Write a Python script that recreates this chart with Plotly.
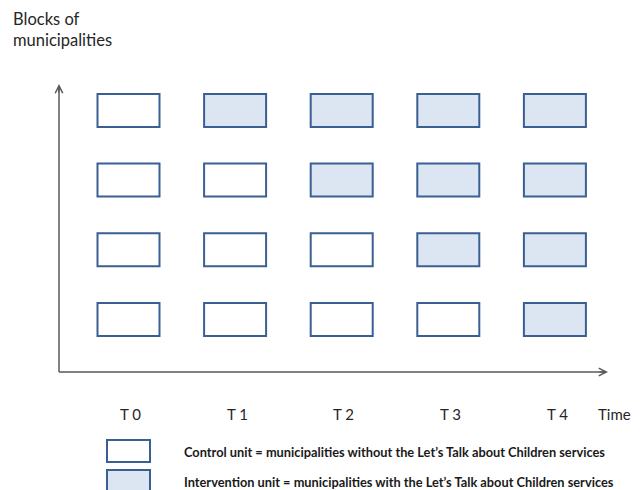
import plotly.graph_objects as go

# ---- data ----
time_labels = ["T 0", "T 1", "T 2", "T 3", "T 4"]
blocks = [1, 2, 3, 4]                 # block 1 at bottom, block 4 at top
intervention_start = [4, 3, 2, 1]     # time index at which each block starts the intervention
legend_labels = [
    "Control unit = municipalities without the Let\u2019s Talk about Children services",
    "Intervention unit = municipalities with the Let\u2019s Talk about Children services",
]

# ---- styling / layout constants ----
OFF = 8                       # page body margin in the browser
W, H = 643 - OFF, 490 - OFF
BORDER = "#3A5F93"
FILL_INT = "#DCE6F2"
FILL_CTRL = "#FFFFFF"
AXIS = "#595959"
TEXT = "#262626"
FONT = "Lato"

# pixel geometry of the grid (window pixels)
col0_px, col_step_px = 128.5 - OFF, 106.6
row1_px, row_step_px = 319.5 - OFF, 69.7
box_w_px, box_h_px = 62, 33

x_range = [-col0_px / col_step_px, (W - col0_px) / col_step_px]
y_range = [1 - (H - row1_px) / row_step_px, 1 + row1_px / row_step_px]
bw = box_w_px / col_step_px
bh = box_h_px / row_step_px


def px_x(p):
    return (p - OFF) / W


def px_y(p):
    return 1 - (p - OFF) / H


fig = go.Figure()
shapes = []
for b, start in zip(blocks, intervention_start):
    for t in range(len(time_labels)):
        fill = FILL_INT if t >= start else FILL_CTRL
        shapes.append(dict(type="rect", xref="x", yref="y",
                           x0=t - bw / 2, x1=t + bw / 2, y0=b - bh / 2, y1=b + bh / 2,
                           line=dict(color=BORDER, width=2), fillcolor=fill, layer="above"))

# axes lines
shapes.append(dict(type="line", xref="paper", yref="paper",
                   x0=px_x(59), x1=px_x(59), y0=px_y(372), y1=px_y(88),
                   line=dict(color=AXIS, width=1.5)))
shapes.append(dict(type="line", xref="paper", yref="paper",
                   x0=px_x(59), x1=px_x(604), y0=px_y(372), y1=px_y(372),
                   line=dict(color=AXIS, width=1.5)))

# legend boxes
legend_fills = [FILL_CTRL, FILL_INT]
legend_box_top = [440, 470]
for f, top in zip(legend_fills, legend_box_top):
    shapes.append(dict(type="rect", xref="paper", yref="paper",
                       x0=px_x(107), x1=px_x(150), y0=px_y(top + 22), y1=px_y(top),
                       line=dict(color=BORDER, width=2), fillcolor=f))

annotations = []
# arrowheads
annotations.append(dict(xref="paper", yref="paper", x=px_x(59), y=px_y(84),
                        ax=0, ay=10, showarrow=True, arrowhead=5, arrowsize=1,
                        arrowwidth=1.5, arrowcolor=AXIS, text=""))
annotations.append(dict(xref="paper", yref="paper", x=px_x(608), y=px_y(372),
                        ax=-10, ay=0, showarrow=True, arrowhead=5, arrowsize=1,
                        arrowwidth=1.5, arrowcolor=AXIS, text=""))

# time labels
for t, lab in enumerate(time_labels):
    annotations.append(dict(xref="x", yref="paper", x=t + 0.02, y=px_y(414),
                            xanchor="center", yanchor="middle",
                            text=lab, showarrow=False,
                            font=dict(family=FONT, size=15, color=TEXT)))
annotations.append(dict(xref="paper", yref="paper", x=px_x(633), y=px_y(414),
                        xanchor="right", yanchor="middle",
                        text="Time", showarrow=False,
                        font=dict(family=FONT, size=15, color=TEXT)))

# y-axis title
annotations.append(dict(xref="paper", yref="paper", x=px_x(11), y=px_y(7),
                        xanchor="left", yanchor="top", align="left",
                        text="Blocks of<br>municipalities", showarrow=False,
                        font=dict(family=FONT, size=16.5, color=TEXT)))

# legend texts
for lab, yc in zip(legend_labels, [452, 482]):
    annotations.append(dict(xref="paper", yref="paper", x=px_x(182), y=px_y(yc),
                            xanchor="left", yanchor="middle",
                            text="<b>" + lab + "</b>", showarrow=False,
                            font=dict(family=FONT, size=12.8, color="#1a1a1a")))

fig.update_layout(
    width=W, height=H,
    margin=dict(l=0, r=0, t=0, b=0),
    paper_bgcolor="white", plot_bgcolor="white",
    xaxis=dict(range=x_range, visible=False, fixedrange=True),
    yaxis=dict(range=y_range, visible=False, fixedrange=True),
    shapes=shapes, annotations=annotations, showlegend=False,
)

fig.write_html("out.html")
